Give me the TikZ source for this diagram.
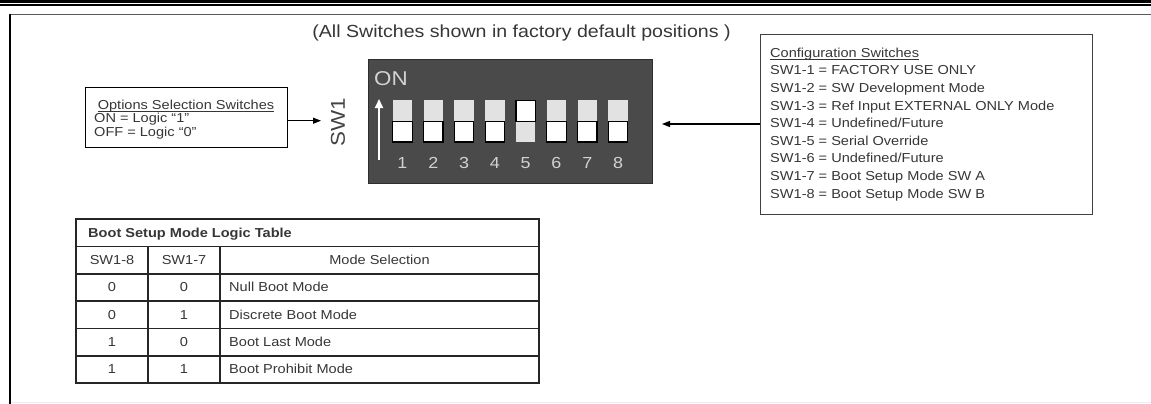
\documentclass[tikz,border=0pt]{standalone}
\usepackage{fontspec}
\setmainfont{Liberation Sans}[FakeStretch=1.12]
\usetikzlibrary{arrows.meta}
\definecolor{txtc}{HTML}{363636}
\definecolor{framec}{HTML}{5A5A5A}
\definecolor{dipbody}{HTML}{4A4A4A}
\definecolor{dipborder}{HTML}{2E2E2E}
\definecolor{slotc}{HTML}{E2E2E2}
\definecolor{numc}{HTML}{D2D2D2}
\definecolor{cfgc}{HTML}{404040}
\definecolor{sw1c}{HTML}{444444}
\begin{document}
\begin{tikzpicture}[x=1pt,y=-1pt,
  t/.style={inner sep=0pt, text=txtc, font=\fontsize{13}{15}\selectfont},
  arr/.style={line width=1.2pt, draw=black, -{Triangle[length=8pt,width=6pt]}},
  box/.style={line width=1.4pt, inner sep=0pt},
  tbl/.style={line width=1.3pt, draw=black!85},
  ul/.style={draw=txtc, line width=0.7pt},
]
\useasboundingbox (0,0) rectangle (1151,404);
% top rules
\fill[black] (0,0) rectangle (1151,2.6);
\fill[black] (0,4.2) rectangle (1151,5.8);
% frame
\draw[line width=1.5pt, draw=framec] (9.7,14.3) -- (1151,14.3);
\draw[line width=2pt, black] (9.7,13.6) -- (9.7,404);
\draw[line width=1pt, draw=black!7] (11,402) -- (1151,402);
% title
\node[t, font=\fontsize{17.5}{20}\selectfont, anchor=base] (title) at (521.5,38) {(All Switches shown in factory default positions )};

% options box
\node[box, draw=black, minimum width=202pt, minimum height=60pt, anchor=north west] (opt) at (85,87) {};
\node[t, anchor=base] (opth) at (186,109.3) {Options Selection Switches};
\draw[ul] ([yshift=-1.6pt]opth.base west) -- ([yshift=-1.6pt]opth.base east);
\node[t, anchor=base west] (opt1) at (94,122.7) {ON = Logic “1”};
\node[t, anchor=base west] (opt2) at (94,136) {OFF = Logic “0”};
\coordinate (a1) at (321,120.7);
\draw[arr] (opt.east |- a1) -- (a1);

% SW1 label
\node[t, text=sw1c, font=\fontsize{20}{22}\selectfont, rotate=90] (sw1) at (338,122) {SW1};

% DIP switch
\node[draw=dipborder, fill=dipbody, line width=1pt, minimum width=284pt, minimum height=124pt, anchor=north west, inner sep=0pt] (dip) at (368,59) {};
\node[t, text=numc, font=\fontsize{20}{22}\selectfont, anchor=base west] (on) at (374,85) {ON};
\coordinate (upb) at (379,160);
\coordinate (upt) at (379,99);
\draw[white, line width=1.8pt, -{Triangle[length=9pt,width=8pt]}] (upb) -- (upt);
\foreach \i in {1,...,8} {
  \pgfmathsetmacro\xx{392.7+30.8*(\i-1)}
  \ifnum\i=5
    \fill[slotc] (\xx,121.6) rectangle ++(19.5,20.4);
    \draw[fill=white, draw=black, line width=1.2pt] (\xx,100.3) rectangle ++(19.5,21.3);
  \else
    \fill[slotc] (\xx,100) rectangle ++(19.5,21.6);
    \draw[fill=white, draw=black, line width=1.2pt] (\xx,121.6) rectangle ++(19.5,20.4);
  \fi
  \node[t, text=numc, font=\fontsize{16}{18}\selectfont, anchor=base] (n\i) at (\xx+9.75,168.3) {\i};
}

% configuration box
\node[box, draw=cfgc, minimum width=332pt, minimum height=180pt, anchor=north west] (cfg) at (760,34) {};
\node[t, anchor=base west] (cfgh) at (770,57.3) {Configuration Switches};
\draw[ul] ([yshift=-1.6pt]cfgh.base west) -- ([yshift=-1.6pt]cfgh.base east);
\foreach \s [count=\k] in {SW1-1 = FACTORY USE ONLY, SW1-2 = SW Development Mode, SW1-3 = Ref Input EXTERNAL ONLY Mode, SW1-4 = Undefined/Future, SW1-5 = Serial Override, SW1-6 = Undefined/Future, SW1-7 = Boot Setup Mode SW A, SW1-8 = Boot Setup Mode SW B} {
  \node[t, anchor=base west] (c\k) at (770,57.3+17.6*\k) {\s};
}
\coordinate (a2) at (662,124);
\draw[arr] (cfg.west |- a2) -- (a2);

% table
\draw[tbl] (76,219) rectangle (539,383);
\foreach \yy in {246.5,274,301,328.5,356} {
  \draw[tbl] (76,\yy) -- (539,\yy);
}
\draw[tbl] (148,246.5) -- (148,383);
\draw[tbl] (220,246.5) -- (220,383);
\node[t, font=\bfseries\fontsize{13}{15}\selectfont, anchor=base west] (th) at (88,237) {Boot Setup Mode Logic Table};
\node[t, anchor=base] (h1) at (112,264.5) {SW1-8};
\node[t, anchor=base] (h2) at (184,264.5) {SW1-7};
\node[t, anchor=base] (h3) at (379.5,264.5) {Mode Selection};
\foreach \a/\b/\m [count=\r] in {0/0/Null Boot Mode, 0/1/Discrete Boot Mode, 1/0/Boot Last Mode, 1/1/Boot Prohibit Mode} {
  \pgfmathsetmacro\yb{264.5+27.3*\r}
  \node[t, anchor=base] (ra\r) at (112,\yb) {\a};
  \node[t, anchor=base] (rb\r) at (184,\yb) {\b};
  \node[t, anchor=base west] (rm\r) at (229,\yb) {\m};
}
\end{tikzpicture}
\end{document}
